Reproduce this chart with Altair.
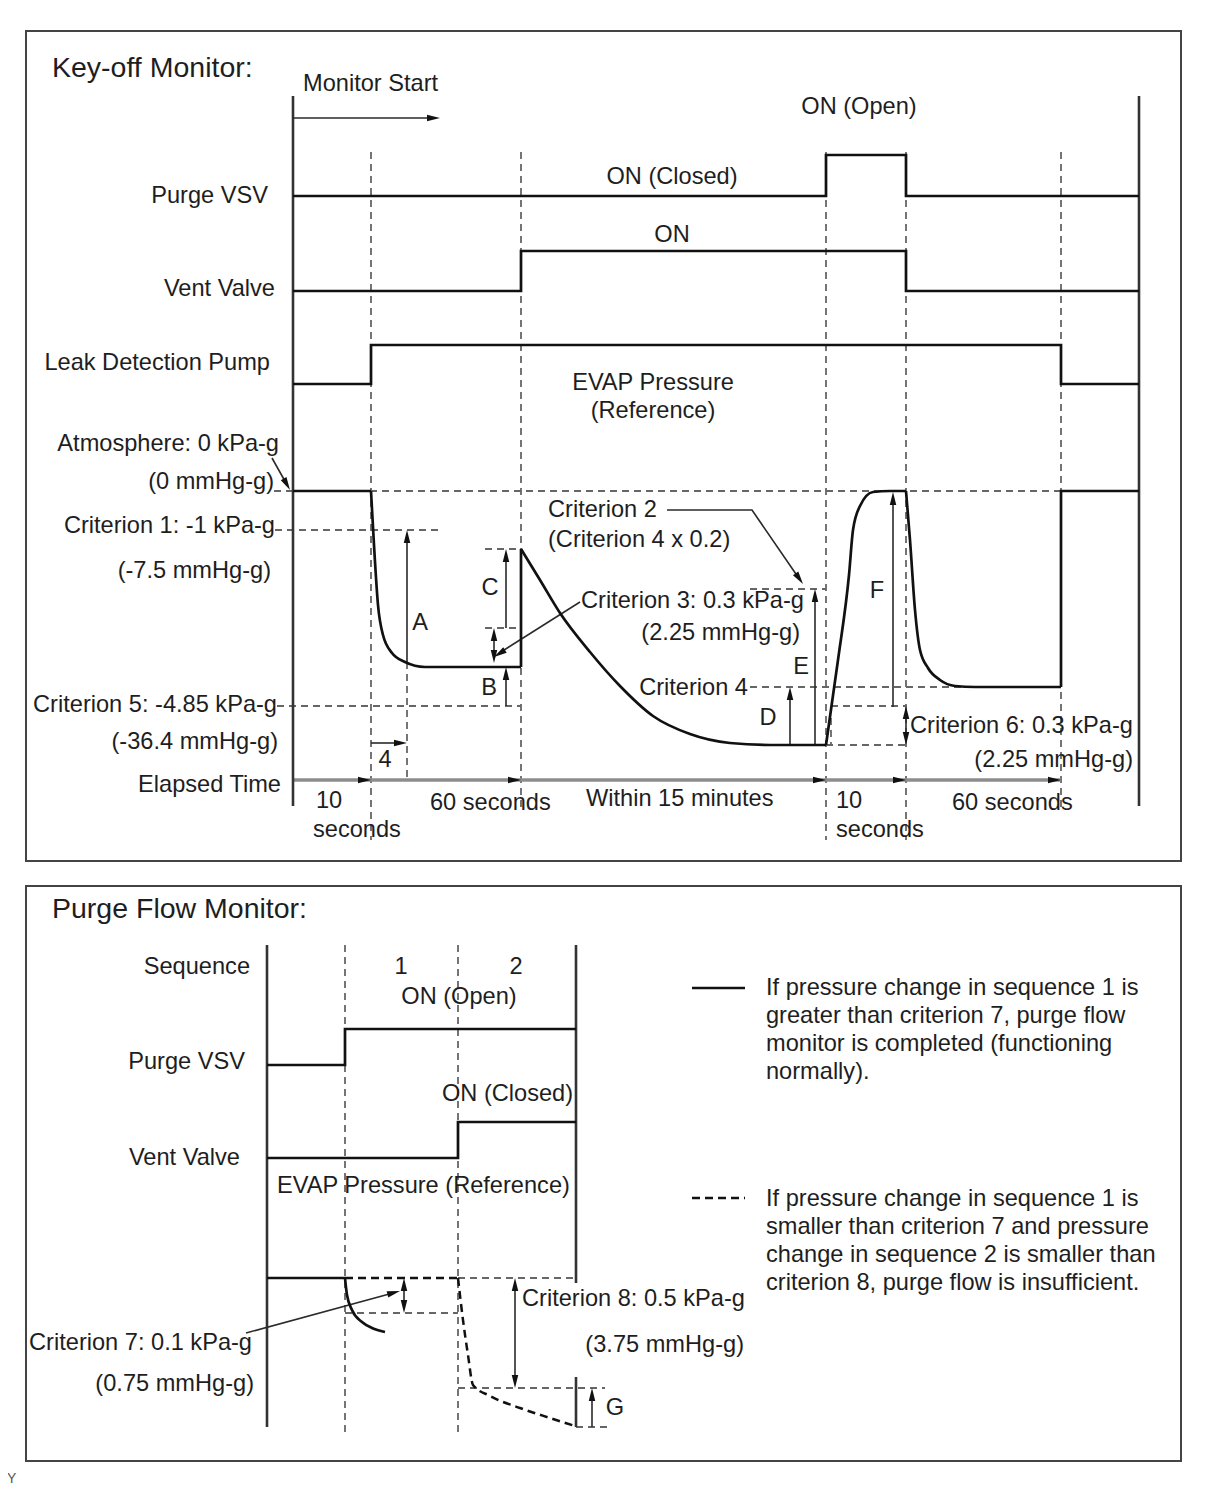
import altair as alt
import numpy as np
import pandas as pd

FONT = "Liberation Sans"
INK = "#1e1e1e"
DASH_GRAY = "#666666"

# ---------------------------------------------------------------------------
# Diagram coordinates.
# ---------------------------------------------------------------------------

# ---------------- Key-off Monitor (upper panel) ----------------
purge_vsv_x = [293, 826, 826, 906, 906, 1139]
purge_vsv_y = [196, 196, 155, 155, 196, 196]
vent_valve_x = [293, 521, 521, 906, 906, 1139]
vent_valve_y = [291, 291, 251, 251, 291, 291]
pump_x = [293, 371, 371, 1061, 1061, 1139]
pump_y = [384, 384, 345, 345, 384, 384]

# EVAP pressure - straight pieces
evap_start_x, evap_start_y = [293, 371], [491, 491]
evap_jump_x, evap_jump_y = [521, 521], [667, 549]
evap_end_x, evap_end_y = [1061, 1061, 1139], [687, 491, 491]
# EVAP pressure - curved pieces
evap_fall_x = [371, 374, 378, 383, 392, 405, 425, 470, 521]
evap_fall_y = [491, 545, 605, 635, 653, 662, 667, 667, 667]
evap_decay_x = [521, 540, 560, 590, 620, 653, 690, 730, 770, 826]
evap_decay_y = [549, 580, 613, 652, 686, 716, 734, 743, 745, 745]
evap_rise_x = [826, 838, 849, 853, 860, 873, 890, 906]
evap_rise_y = [745, 660, 575, 530, 506, 492, 491, 491]
evap_drop_x = [906, 910, 915, 920, 928, 940, 955, 975, 1061]
evap_drop_y = [491, 540, 610, 650, 668, 680, 686, 687, 687]

# frame verticals of the timing area
upper_frame = [([293, 293], [96, 806]), ([1139, 1139], [96, 806])]

# dashed reference lines (upper)
upper_dashed = [
    ([371, 371], [152, 840]), ([521, 521], [152, 808]), ([826, 826], [152, 840]),
    ([906, 906], [152, 840]), ([1061, 1061], [152, 808]), ([407, 407], [662, 780]),
    ([831, 831], [706, 745]),
    ([274, 1061], [491, 491]), ([275, 440], [530, 530]), ([277, 521], [706, 706]),
    ([485, 521], [549, 549]), ([485, 521], [628, 628]), ([750, 826], [589, 589]),
    ([750, 1061], [687, 687]), ([831, 906], [706, 706]), ([826, 906], [745, 745]),
]

# thin arrows: shaft points; heads: (tip_x, tip_y, back_x, back_y)
upper_shafts = [
    ([293, 432], [118, 118]),          # monitor start
    ([272, 286], [458, 483]),          # atmosphere pointer
    ([407, 407], [662, 538]),          # A
    ([506, 506], [706, 675]),          # B
    ([506, 506], [628, 557]),          # C
    ([494, 494], [634, 657]),          # criterion 3 span
    ([580, 501], [602, 652]),          # criterion 3 pointer
    ([371, 399], [743, 743]),          # 4
    ([667, 752, 798], [510, 510, 577]),  # criterion 2 pointer
    ([790, 790], [745, 695]),          # D
    ([815, 815], [745, 597]),          # E
    ([893, 893], [707, 500]),          # F
    ([906, 906], [712, 739]),          # criterion 6 span
]
upper_heads = [
    (440, 118, 293, 118), (290, 490, 272, 458), (407, 530, 407, 662),
    (506, 667, 506, 706), (506, 549, 506, 628), (494, 628, 494, 663),
    (494, 663, 494, 628), (494, 657, 580, 602), (407, 743, 371, 743),
    (803, 584, 752, 510), (790, 687, 790, 745), (815, 589, 815, 745),
    (893, 492, 893, 707), (906, 706, 906, 745), (906, 745, 906, 706),
]
elapsed_axis_x, elapsed_axis_y = [293, 1061], [780, 780]
elapsed_marks_x = [371, 521, 826, 906, 1061]

# ---------------- Purge Flow Monitor (lower panel) ----------------
pf_purge_x, pf_purge_y = [267, 345, 345, 576], [1065, 1065, 1029, 1029]
pf_vent_x, pf_vent_y = [267, 458, 458, 576], [1158, 1158, 1122, 1122]
pf_evap_x, pf_evap_y = [267, 345], [1278, 1278]
pf_ok_curve_x = [345, 347, 352, 362, 372, 385]
pf_ok_curve_y = [1278, 1295, 1310, 1322, 1328, 1332]
pf_bad_flat_x, pf_bad_flat_y = [345, 458], [1278, 1278]
pf_bad_curve_x = [458, 463, 468, 473, 490, 520, 550, 575]
pf_bad_curve_y = [1278, 1320, 1355, 1385, 1396, 1408, 1418, 1426]

lower_frame = [([267, 267], [945, 1427]), ([576, 576], [945, 1283]), ([576, 576], [1377, 1427])]
lower_dashed = [
    ([345, 345], [945, 1437]), ([458, 458], [945, 1437]),
    ([458, 576], [1278, 1278]), ([345, 458], [1313, 1313]),
    ([458, 605], [1388, 1388]), ([576, 610], [1427, 1427]),
]
lower_shafts = [
    ([246, 393], [1333, 1293]),   # criterion 7 pointer
    ([404, 404], [1285, 1306]),   # criterion 7 span
    ([515, 515], [1285, 1381]),   # criterion 8 span
    ([592, 592], [1427, 1395]),   # G
]
lower_heads = [
    (400, 1291, 246, 1333), (404, 1278, 404, 1313), (404, 1313, 404, 1278),
    (515, 1278, 515, 1388), (515, 1388, 515, 1278), (592, 1388, 592, 1427),
]
legend_solid_x, legend_solid_y = [692, 745], [988, 988]
legend_dash_x, legend_dash_y = [692, 745], [1198, 1198]

# panels
panel_x1 = [26, 26]
panel_x2 = [1181, 1181]
panel_y1 = [31, 886]
panel_y2 = [861, 1461]

# ---------------- texts ----------------
titles = [("Key-off Monitor:", 52, 68), ("Purge Flow Monitor:", 52, 909)]
texts_left = [
    ("Monitor Start", 303, 84),
    ("Criterion 2", 548, 510),
    ("(Criterion 4 x 0.2)", 548, 540),
    ("Criterion 3: 0.3 kPa-g", 581, 601),
    ("Criterion 6: 0.3 kPa-g", 910, 726),
    ("10", 316, 801), ("seconds", 313, 830),
    ("60 seconds", 430, 803),
    ("Within 15 minutes", 586, 799),
    ("10", 836, 801), ("seconds", 836, 830),
    ("60 seconds", 952, 803),
    ("ON (Closed)", 442, 1094),
    ("EVAP Pressure (Reference)", 277, 1186),
    ("Criterion 8: 0.5 kPa-g", 522, 1299),
    ("If pressure change in sequence 1 is", 766, 988),
    ("greater than criterion 7, purge flow", 766, 1016),
    ("monitor is completed (functioning", 766, 1044),
    ("normally).", 766, 1072),
    ("If pressure change in sequence 1 is", 766, 1199),
    ("smaller than criterion 7 and pressure", 766, 1227),
    ("change in sequence 2 is smaller than", 766, 1255),
    ("criterion 8, purge flow is insufficient.", 766, 1283),
]
texts_right = [
    ("Purge VSV", 268, 196),
    ("Vent Valve", 275, 289),
    ("Leak Detection Pump", 270, 363),
    ("Atmosphere: 0 kPa-g", 279, 444),
    ("(0 mmHg-g)", 274, 482),
    ("Criterion 1: -1 kPa-g", 275, 526),
    ("(-7.5 mmHg-g)", 271, 571),
    ("(2.25 mmHg-g)", 800, 633),
    ("Criterion 4", 748, 688),
    ("Criterion 5: -4.85 kPa-g", 277, 705),
    ("(-36.4 mmHg-g)", 278, 742),
    ("(2.25 mmHg-g)", 1133, 760),
    ("Elapsed Time", 281, 785),
    ("Sequence", 250, 967),
    ("Purge VSV", 245, 1062),
    ("Vent Valve", 240, 1158),
    ("Criterion 7: 0.1 kPa-g", 252, 1343),
    ("(0.75 mmHg-g)", 254, 1384),
    ("(3.75 mmHg-g)", 744, 1345),
]
texts_center = [
    ("ON (Open)", 859, 107),
    ("ON (Closed)", 672, 177),
    ("ON", 672, 235),
    ("EVAP Pressure", 653, 383),
    ("(Reference)", 653, 411),
    ("A", 420, 623), ("B", 489, 688), ("C", 490, 588),
    ("D", 768, 718), ("E", 801, 667), ("F", 877, 591),
    ("4", 385, 760), ("G", 615, 1408),
    ("1", 401, 967), ("2", 516, 967),
    ("ON (Open)", 459, 997),
]
footnote = [("Y", 7, 1479)]

# ---------------------------------------------------------------------------
XS = alt.Scale(domain=[8, 1200], nice=False, zero=False)
YS = alt.Scale(domain=[8, 1488], nice=False, zero=False, reverse=True)


def xy():
    return dict(x=alt.X("x:Q", scale=XS, axis=None), y=alt.Y("y:Q", scale=YS, axis=None))


def paths_df(paths):
    rows = []
    for i, (xs, ys) in enumerate(paths):
        for j, (x, y) in enumerate(zip(xs, ys)):
            rows.append({"pid": i, "ord": j, "x": x, "y": y})
    return pd.DataFrame(rows)


def line_layer(paths, color, width, dash=None, interp="linear"):
    props = dict(color=color, strokeWidth=width, interpolate=interp, strokeCap="butt")
    if dash is not None:
        props["strokeDash"] = dash
    return alt.Chart(paths_df(paths)).mark_line(**props).encode(
        **xy(), detail="pid:N", order="ord:Q")


HEAD_SIZE = 169
HEAD_HALF = np.sqrt(HEAD_SIZE) / 2


def heads_layer(heads, color="#111111"):
    rows = []
    for tx, ty, bx, by in heads:
        dx, dy = tx - bx, ty - by
        L = float(np.hypot(dx, dy))
        ux, uy = dx / L, dy / L
        ang = float(np.degrees(np.arctan2(dx, -dy)) % 360)
        rows.append({"x": tx - ux * HEAD_HALF, "y": ty - uy * HEAD_HALF, "ang": ang})
    return alt.Chart(pd.DataFrame(rows)).mark_point(
        shape="M0,-1L-0.5,1L0.5,1Z", filled=True, size=HEAD_SIZE, color=color,
        opacity=1, strokeWidth=0
    ).encode(**xy(), angle=alt.Angle("ang:Q", scale=None))


def text_layer(items, align, size=23.6, color=INK):
    df = pd.DataFrame(items, columns=["label", "x", "y"])
    return alt.Chart(df).mark_text(
        align=align, baseline="middle", font=FONT, fontSize=size, color=color
    ).encode(**xy(), text="label:N")


panels = alt.Chart(pd.DataFrame({"x": panel_x1, "x2": panel_x2, "y": panel_y1, "y2": panel_y2})).mark_rect(
    filled=False, stroke="#444444", strokeWidth=2
).encode(x=alt.X("x:Q", scale=XS, axis=None), x2="x2:Q",
         y=alt.Y("y:Q", scale=YS, axis=None), y2="y2:Q")

thick_solid = [
    (purge_vsv_x, purge_vsv_y), (vent_valve_x, vent_valve_y), (pump_x, pump_y),
    (evap_start_x, evap_start_y), (evap_jump_x, evap_jump_y), (evap_end_x, evap_end_y),
    (pf_purge_x, pf_purge_y), (pf_vent_x, pf_vent_y), (pf_evap_x, pf_evap_y),
    (legend_solid_x, legend_solid_y),
]
thick_curves = [
    (evap_fall_x, evap_fall_y), (evap_decay_x, evap_decay_y),
    (evap_rise_x, evap_rise_y), (evap_drop_x, evap_drop_y),
    (pf_ok_curve_x, pf_ok_curve_y),
]
thick_dashed = [(pf_bad_flat_x, pf_bad_flat_y), (legend_dash_x, legend_dash_y)]
thick_dashed_curve = [(pf_bad_curve_x, pf_bad_curve_y)]

axis_heads = [(x, elapsed_axis_y[0], x - 10, elapsed_axis_y[0]) for x in elapsed_marks_x]

layers = [
    panels,
    line_layer(upper_dashed + lower_dashed, DASH_GRAY, 1.8, dash=[7, 5]),
    line_layer([(elapsed_axis_x, elapsed_axis_y)], "#8c8c8c", 3.5),
    line_layer(upper_frame + lower_frame, "#333333", 2.6),
    line_layer(upper_shafts + lower_shafts, "#2a2a2a", 1.6),
    line_layer(thick_solid, "#111111", 2.7),
    line_layer(thick_curves, "#111111", 2.7, interp="monotone"),
    line_layer(thick_dashed, "#111111", 2.5, dash=[8, 5]),
    line_layer(thick_dashed_curve, "#111111", 2.5, dash=[8, 5], interp="monotone"),
    heads_layer(upper_heads + lower_heads + axis_heads),
    text_layer(titles, "left", size=28.5),
    text_layer(texts_left, "left"),
    text_layer(texts_right, "right"),
    text_layer(texts_center, "center"),
    text_layer(footnote, "left", size=14, color="#555555"),
]

chart = alt.layer(*layers).properties(
    width=1192, height=1480, padding=0,
    autosize=alt.AutoSizeParams(type="none"),
    background="white",
).configure_view(stroke=None)

chart.save("out.html", embed_options={"renderer": "svg", "actions": False})
